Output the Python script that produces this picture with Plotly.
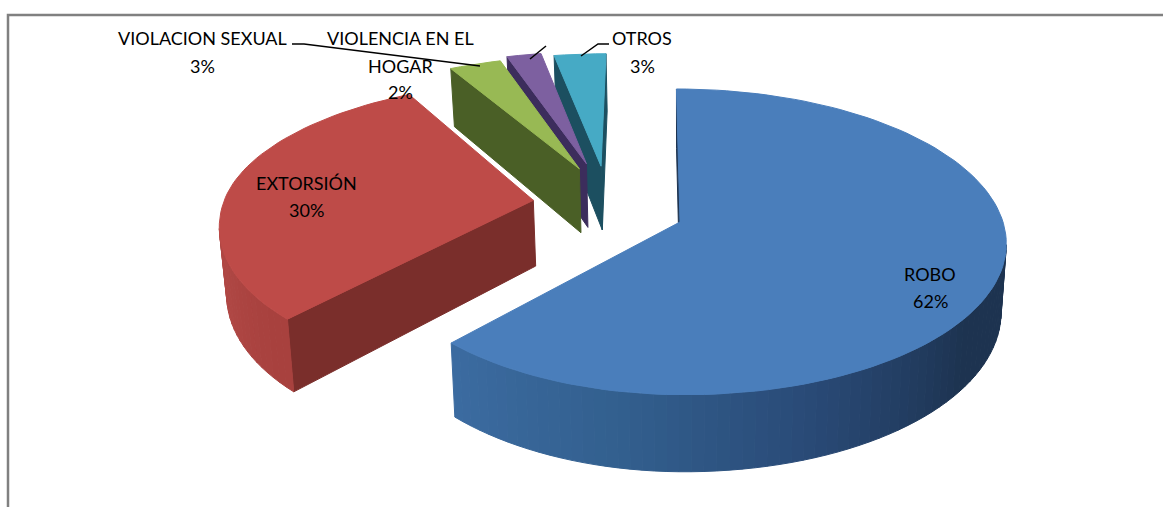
import numpy as np
import plotly.graph_objects as go

# values
categories = ["ROBO", "EXTORSIÓN", "VIOLACION SEXUAL", "VIOLENCIA EN EL HOGAR", "OTROS"]
values = [62, 30, 3, 2, 3]
colors_top = ["#4A7EBB", "#BE4B48", "#98B954", "#7D60A0", "#46AAC5"]
colors_wall = ["#1D3350", "#7A2E2B", "#4A5F26", "#3C2D5C", "#1C4F60"]

# explosion of each slice, in units of the pie radius
explode_u = [0.0, -0.461, -0.322, -0.300, -0.252]
explode_v = [0.0, -0.147, -0.371, -0.408, -0.390]
# the source pie is not quite round: per slice scale of back, front and left side
squash_back = [1.0, 0.92, 0.92, 0.92, 0.92]
squash_front = [1.0, 1.02, 1.0, 1.0, 1.0]
squash_left = [0.95, 0.975, 1.0, 1.0, 1.0]

# perspective of the pie, in pixels
CX, CY = 680, 222
RX, RY = 323, 150.3
PERSP = 0.13
SKEW = 4
THICK = 67
SHRINK = 0.984

# outer wall shading: angle clockwise from 12 o'clock -> colour
wall_stops = {
    0: [(90, "#1D3350"), (125, "#1D3350"), (160, "#2A4B78"), (190, "#33608F"), (225, "#3D6DA3")],
    1: [(225, "#A8413E"), (250, "#B04845"), (275, "#B04845")],
}


def project(u, v):
    w = 1 - PERSP * v
    return CX + (RX * u + SKEW * v) / w, CY + RY * v / w, THICK / w


def lower(x, y, t):
    return CX + (x - CX) * SHRINK, y + t


def hex_rgb(c):
    return [int(c[i:i + 2], 16) for i in (1, 3, 5)]


def shade(stops, ang):
    angs = [s[0] for s in stops]
    rgb = np.array([hex_rgb(s[1]) for s in stops])
    mixed = [np.interp(ang, angs, rgb[:, k]) for k in range(3)]
    return "rgb(%d,%d,%d)" % tuple(mixed)


def poly(xs, ys, color):
    return go.Scatter(x=xs, y=ys, mode="lines", fill="toself", fillcolor=color,
                      line=dict(color=color, width=1), hoverinfo="skip", showlegend=False)


fig = go.Figure()

starts = np.cumsum([0] + values[:-1]) * 3.6
# back slices first so the front ones cover them
for i in [4, 3, 2, 1, 0]:
    a0 = starts[i]
    a1 = a0 + values[i] * 3.6
    n = max(int((a1 - a0) / 2), 2)
    angs = np.linspace(a0, a1, n + 1)
    su = np.sin(np.radians(angs))
    sv = -np.cos(np.radians(angs))
    us = explode_u[i] + su * np.where(su < 0, squash_left[i], 1.0)
    vs = explode_v[i] + sv * np.where(sv < 0, squash_back[i], squash_front[i])
    x, y, t = project(us, vs)
    ax, ay, at = project(np.array([explode_u[i]]), np.array([explode_v[i]]))

    # outline clockwise: apex, arc, apex. A wall shows only where the edge runs right to left
    ox = np.concatenate([ax, x, ax])
    oy = np.concatenate([ay, y, ay])
    ot = np.concatenate([at, t, at])
    for k in range(len(ox) - 1):
        if ox[k + 1] >= ox[k]:
            continue
        bx0, by0 = lower(ox[k], oy[k], ot[k])
        bx1, by1 = lower(ox[k + 1], oy[k + 1], ot[k + 1])
        on_arc = 0 < k < len(ox) - 2
        if on_arc and i in wall_stops:
            col = shade(wall_stops[i], angs[k - 1])
        else:
            col = colors_wall[i]
        fig.add_trace(poly([ox[k], ox[k + 1], bx1, bx0, ox[k]],
                           [oy[k], oy[k + 1], by1, by0, oy[k]], col))
    fig.add_trace(poly(list(ox), list(oy), colors_top[i]))

# leader lines
leaders = [
    ([292, 304, 480], [44, 44, 66]),
    ([546, 530], [46, 59]),
    ([609, 598, 581], [44, 44, 56]),
]
for lx, ly in leaders:
    fig.add_trace(go.Scatter(x=lx, y=ly, mode="lines", line=dict(color="black", width=1.5),
                             hoverinfo="skip", showlegend=False))

# frame of the chart area, cut by the picture edges
fig.add_trace(go.Scatter(x=[8, 8, 1163], y=[507, 15, 15], mode="lines",
                         line=dict(color="#808080", width=2.5), hoverinfo="skip", showlegend=False))

label_lines = [
    ("ROBO", 930, 274), ("62%", 930, 301),
    ("EXTORSIÓN", 306, 183), ("30%", 306, 210),
    ("VIOLACION SEXUAL", 202, 38), ("3%", 202, 66),
    ("VIOLENCIA EN EL", 400, 38), ("HOGAR", 400, 66), ("2%", 400, 92),
    ("OTROS", 642, 38), ("3%", 642, 66),
]
for txt, lx, ly in label_lines:
    fig.add_annotation(x=lx, y=ly, text=txt, showarrow=False, xanchor="center", yanchor="middle",
                       font=dict(family="Lato", size=18, color="black"))

fig.update_xaxes(range=[0, 1163], visible=False)
fig.update_yaxes(range=[507, 0], visible=False)
fig.update_layout(width=1163, height=507, margin=dict(l=0, r=0, t=0, b=0),
                  paper_bgcolor="white", plot_bgcolor="white", showlegend=False)

fig.write_html("out.html", config={"displayModeBar": False},
               post_script="document.body.style.margin='0';")
